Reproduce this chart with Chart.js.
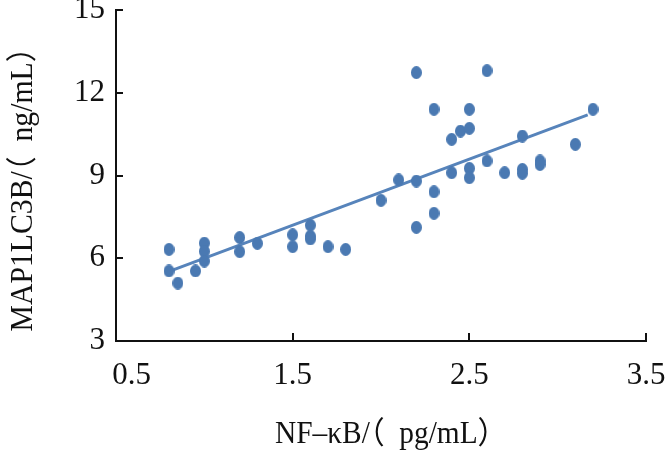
<!DOCTYPE html>
<html><head><meta charset="utf-8">
<script src="https://cdn.jsdelivr.net/npm/chart.js@4.4.1/dist/chart.umd.min.js"></script>
<style>html,body{margin:0;padding:0;background:#fff}</style>
</head><body>
<canvas id="c" width="672" height="453"></canvas>
<script>
// ---- data ----
const nfkbValues = [0.8, 0.8, 0.85, 0.95, 1.0, 1.0, 1.0, 1.2, 1.2, 1.3, 1.5, 1.5, 1.6, 1.6, 1.6, 1.7, 1.8,
  2.0, 2.1, 2.2, 2.2, 2.2, 2.3, 2.3, 2.3, 2.4, 2.4, 2.45, 2.5, 2.5, 2.5, 2.5, 2.6, 2.6, 2.7, 2.8, 2.8, 2.8, 2.9, 2.9, 3.1, 3.2];
const map1lc3bValues = [6.32, 5.54, 5.1, 5.54, 6.55, 6.25, 5.9, 6.75, 6.24, 6.54, 6.85, 6.42, 7.2, 6.8, 6.7, 6.42, 6.32,
  8.1, 8.84, 12.73, 8.8, 7.12, 11.4, 8.41, 7.63, 10.31, 9.1, 10.61, 11.4, 10.71, 9.26, 8.92, 12.8, 9.53, 9.1, 10.43, 9.22, 9.08, 9.53, 9.4, 10.13, 11.4];
const fitLineX = [0.79, 3.17];
const fitLineY = [5.5, 11.2];
const xTickValues = [0.5, 1.5, 2.5, 3.5];
const yTickValues = [3, 6, 9, 12, 15];
const xAxisTitle = 'NF–κB/（pg/mL）';
const yAxisTitle = 'MAP1LC3B/（ng/mL）';

const pointColor = '#4a79b2';
const lineColor = '#5784bb';
const inkColor = '#111111';
const serif = "'Liberation Serif','Noto Sans CJK SC',serif";

function makeDot() {
  const c = document.createElement('canvas');
  c.width = 11; c.height = 13;
  const g = c.getContext('2d');
  g.fillStyle = pointColor;
  g.beginPath();
  g.ellipse(5.5, 6.5, 5.5, 6.5, 0, 0, 2 * Math.PI);
  g.fill();
  return c;
}

// draws the title, placing the opening bracket glyph to the left of its box
function drawTitle(ctx, text, cx, baseY, width, rot) {
  const i = text.indexOf('（');
  const pre = text.slice(0, i), br = '（', post = text.slice(i + 1);
  ctx.save();
  ctx.translate(cx, baseY);
  ctx.rotate(rot);
  const wPre = ctx.measureText(pre).width, wBr = ctx.measureText(br).width, wPost = ctx.measureText(post).width;
  const total = wPre + wBr + wPost;
  ctx.scale(width / total, 1);
  ctx.textAlign = 'left';
  ctx.textBaseline = 'alphabetic';
  const x0 = -total / 2;
  ctx.fillText(pre, x0, 0);
  ctx.fillText(br, x0 + wPre - wBr * 0.5, 0);
  ctx.fillText(post, x0 + wPre + wBr, 0);
  ctx.restore();
}

const axisDecor = {
  id: 'axisDecor',
  afterDraw(chart) {
    const { ctx, chartArea: a, scales: { x, y } } = chart;
    ctx.save();
    ctx.strokeStyle = inkColor;
    ctx.lineWidth = 2;
    ctx.beginPath();
    xTickValues.forEach(v => {
      const px = Math.round(x.getPixelForValue(v));
      if (px <= a.left + 2) return;
      ctx.moveTo(px, a.bottom); ctx.lineTo(px, a.bottom - 8);
    });
    yTickValues.forEach(v => {
      const py = Math.round(y.getPixelForValue(v));
      if (py >= a.bottom - 2) return;
      ctx.moveTo(a.left, py); ctx.lineTo(a.left + 7, py);
    });
    ctx.stroke();
    ctx.fillStyle = inkColor;
    ctx.font = '31px ' + serif;
    drawTitle(ctx, xAxisTitle, 391, 443, 232, 0);
    drawTitle(ctx, yAxisTitle, 32, 182, 299, -Math.PI / 2);
    ctx.restore();
  }
};

function noPad(s) { s.paddingTop = 0; s.paddingBottom = 0; s.paddingLeft = 0; s.paddingRight = 0; }

const dot = makeDot();
const points = nfkbValues.map((v, i) => ({ x: v, y: map1lc3bValues[i] }));
const fitPoints = fitLineX.map((v, i) => ({ x: v, y: fitLineY[i] }));

new Chart(document.getElementById('c'), {
  type: 'scatter',
  data: {
    datasets: [
      { type: 'scatter', data: points, pointStyle: dot, pointRadius: 6, pointHoverRadius: 6,
        backgroundColor: pointColor, borderColor: pointColor, order: 1, clip: false },
      { type: 'line', data: fitPoints, borderColor: lineColor, borderWidth: 3, pointRadius: 0,
        fill: false, order: 2, clip: false }
    ]
  },
  options: {
    responsive: false,
    animation: false,
    events: [],
    layout: { padding: { top: 10, right: 26, left: 0, bottom: 0 } },
    plugins: { legend: { display: false }, tooltip: { enabled: false } },
    scales: {
      x: {
        type: 'linear', min: 0.5, max: 3.5,
        afterBuildTicks: s => { s.ticks = xTickValues.map(v => ({ value: v })); },
        afterFit: s => { s.height = 112; noPad(s); },
        grid: { display: true, drawOnChartArea: false, drawTicks: false },
        border: { display: true, color: inkColor, width: 2 },
        ticks: { color: inkColor, font: { family: serif, size: 31 }, padding: 16, maxRotation: 0, autoSkip: false,
          callback: (v, i) => (i === 0 ? '    ' : '') + v.toFixed(1) }
      },
      y: {
        type: 'linear', min: 3, max: 15,
        afterBuildTicks: s => { s.ticks = yTickValues.map(v => ({ value: v })); },
        afterFit: s => { s.width = 116; noPad(s); },
        grid: { display: true, drawOnChartArea: false, drawTicks: false },
        border: { display: true, color: inkColor, width: 2 },
        ticks: { color: inkColor, font: { family: serif, size: 31 }, padding: 11, autoSkip: false,
          callback: v => String(v) }
      }
    }
  },
  plugins: [axisDecor]
});
</script>
</body></html>
